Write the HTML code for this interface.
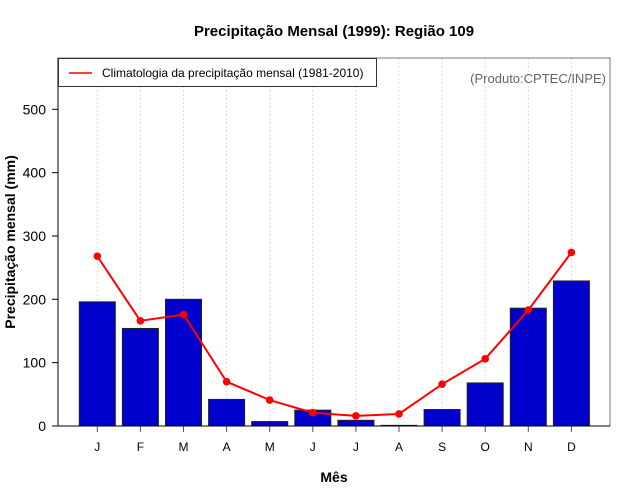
<!DOCTYPE html>
<html><head><meta charset="utf-8"><style>
html,body{margin:0;padding:0;background:#fff;}
svg{display:block;font-family:"Liberation Sans",sans-serif;}
</style></head><body>
<svg id="chart" width="640" height="500">
<text x="334" y="36" text-anchor="middle" font-size="15" font-weight="bold">Precipitação Mensal (1999): Região 109</text>
<text x="334" y="482" text-anchor="middle" font-size="14" font-weight="bold">Mês</text>
<text transform="translate(15,242) rotate(-90)" text-anchor="middle" font-size="14" font-weight="bold">Precipitação mensal (mm)</text>
<g id="grid"></g>
<g id="bars"></g>
<g id="line"></g>
<g id="axes"></g>
<rect x="58" y="58" width="552" height="368" fill="none" stroke="#777" stroke-width="1"/>
<line x1="58" y1="58" x2="58" y2="426" stroke="#000"/>
<line x1="58" y1="426" x2="610" y2="426" stroke="#000"/>
<g>
<rect x="58.5" y="58.5" width="318" height="28" fill="#fff" stroke="#333"/>
<line x1="69" y1="73" x2="92" y2="73" stroke="red" stroke-width="1.5"/>
<text x="102" y="77" font-size="12">Climatologia da precipitação mensal (1981-2010)</text>
</g>
<text x="606" y="83" text-anchor="end" font-size="13" fill="#666">(Produto:CPTEC/INPE)</text>
</svg>
<script>
const months = ["J","F","M","A","M","J","J","A","S","O","N","D"];
const precip1999 = [196,154,200,42,7,25,9,1,26,68,186,229];
const climatology = [268,166,176,70,41,21,16,19,66,106,183,274];
const yTicks = [0,100,200,300,400,500];
const NS="http://www.w3.org/2000/svg";
function xS(i){return 97.3+i*43.1;}
function yS(v){return 426-v*0.6334;}
function mk(tag,attrs,parent){const e=document.createElementNS(NS,tag);for(const k in attrs)e.setAttribute(k,attrs[k]);document.getElementById(parent).appendChild(e);return e;}
months.forEach((m,i)=>{
  let g=mk('line',{x1:xS(i),x2:xS(i),y1:58,y2:426,stroke:'#ddd','stroke-dasharray':'2,2'},'grid');
  
  
  let b=mk('rect',{x:xS(i)-18,y:yS(precip1999[i]),width:36,height:426-yS(precip1999[i]),fill:'#0000cc',stroke:'#222','stroke-width':1},'bars');
  
  
  let t=mk('line',{x1:xS(i),x2:xS(i),y1:426,y2:432,stroke:'#555'},'axes');
  
  
  let l=mk('text',{x:xS(i),y:451,'text-anchor':'middle','font-size':12},'axes');
  l.textContent=m;
  
  
});
let pts=climatology.map((v,i)=>xS(i)+','+yS(v)).join(' ');
let pl=mk('polyline',{points:pts,fill:'none',stroke:'red','stroke-width':2},'line');


climatology.forEach((v,i)=>{
  let c=mk('circle',{cx:xS(i),cy:yS(v),r:3.8,fill:'red'},'line');
  
  
});
yTicks.forEach(v=>{
  let t=mk('line',{x1:52,x2:58,y1:yS(v),y2:yS(v),stroke:'#000'},'axes');
  
  
  let l=mk('text',{x:46,y:yS(v)+5,'text-anchor':'end','font-size':14},'axes');
  l.textContent=v;
  
  
});
</script>
</body></html>
